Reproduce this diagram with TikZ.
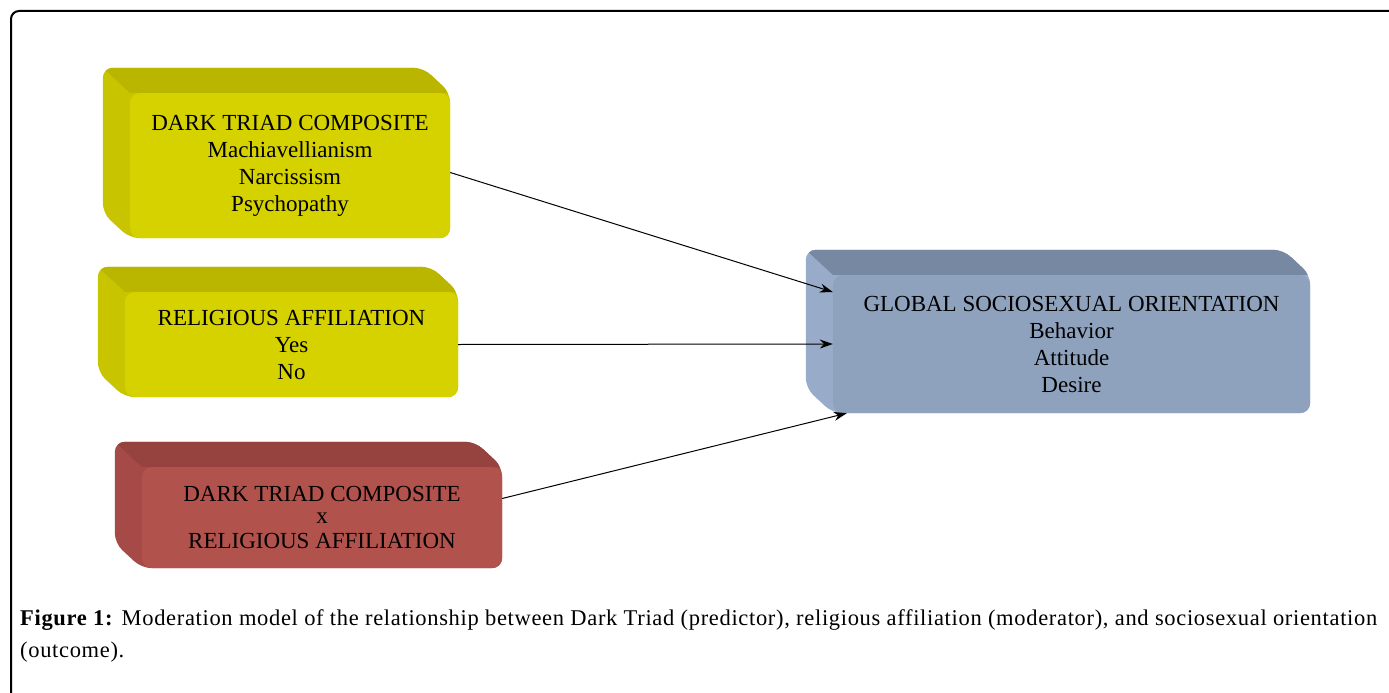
\documentclass[tikz,border=0pt]{standalone}
\usepackage{fontspec}
\setmainfont{Liberation Serif}
\usetikzlibrary{arrows.meta,backgrounds,positioning}

\definecolor{yfront}{RGB}{213,210,0}
\definecolor{ytop}{RGB}{186,182,0}
\definecolor{yside}{RGB}{200,197,0}
\definecolor{rfront}{RGB}{178,82,76}
\definecolor{rtop}{RGB}{150,66,62}
\definecolor{rside}{RGB}{165,74,70}
\definecolor{bfront}{RGB}{142,162,190}
\definecolor{btop}{RGB}{118,136,162}
\definecolor{bside}{RGB}{152,172,202}

\tikzset{
  face/.style={rounded corners=10pt, inner sep=0pt, align=center,
    font=\fontsize{23}{27}\selectfont},
  arr/.style={-{Stealth[length=13pt,width=9pt]}, line width=1pt},
  captext/.style={anchor=base west, inner sep=0pt,
    font=\fontsize{22.5}{32}\selectfont\addfontfeature{LetterSpace=3}},
}

% extruded back of a box node: #1 node, #2 top colour, #3 side colour
\newcommand{\solidbox}[3]{%
  \begin{scope}[on background layer]
    \fill[#3, rounded corners=10pt, path picture={
        \fill[#2, sharp corners] ([shift={(-27pt,25pt)}]#1.north west) -- ([shift={(-27pt,25pt)}]#1.north east)
          -- (#1.north east) -- (#1.north west) -- cycle;}]
      ([shift={(-27pt,25pt)}]#1.north west) -- ([shift={(-27pt,25pt)}]#1.north east)
      -- (#1.north east) -- (#1.south east) -- (#1.south west)
      -- ([shift={(-27pt,25pt)}]#1.south west) -- cycle;
  \end{scope}}

\begin{document}
\begin{tikzpicture}[x=1pt,y=-1pt]
\useasboundingbox (0,0) rectangle (1389,693);
\draw[line width=2pt, rounded corners=8pt] (11,693) -- (11,11) -- (1389,11);

\node[face, fill=yfront, minimum width=320pt, minimum height=145pt] (dtc) at (290,165.5)
  {DARK TRIAD COMPOSITE\\Machiavellianism\\Narcissism\\Psychopathy};
\node[face, fill=yfront, minimum width=333pt, minimum height=105pt] (rel) at (291.5,344.5)
  {RELIGIOUS AFFILIATION\\Yes\\No};
\node[face, fill=rfront, minimum width=360pt, minimum height=101pt] (inter) at (322,517.5)
  {DARK TRIAD COMPOSITE\\[-5pt]x\\[-2pt]RELIGIOUS AFFILIATION};
\node[face, fill=bfront, minimum width=477pt, minimum height=138pt] (gso) at (1071.5,344)
  {GLOBAL SOCIOSEXUAL ORIENTATION\\Behavior\\Attitude\\Desire};

\solidbox{dtc}{ytop}{yside}
\solidbox{rel}{ytop}{yside}
\solidbox{inter}{rtop}{rside}
\solidbox{gso}{btop}{bside}

\draw[arr] ([yshift=-7pt]dtc.east) -- ([yshift=52pt]gso.west);
\draw[arr] (rel.east) -- (gso.west);
\draw[arr] ([yshift=19pt]inter.east) -- ([xshift=14pt]gso.south west);

\node[captext] (cap) at (20,625)
  {\textbf{Figure 1:} Moderation model of the relationship between Dark Triad (predictor), religious affiliation (moderator), and sociosexual orientation};
\node[captext] (capend) at (20,657) {(outcome).};
\end{tikzpicture}
\end{document}
